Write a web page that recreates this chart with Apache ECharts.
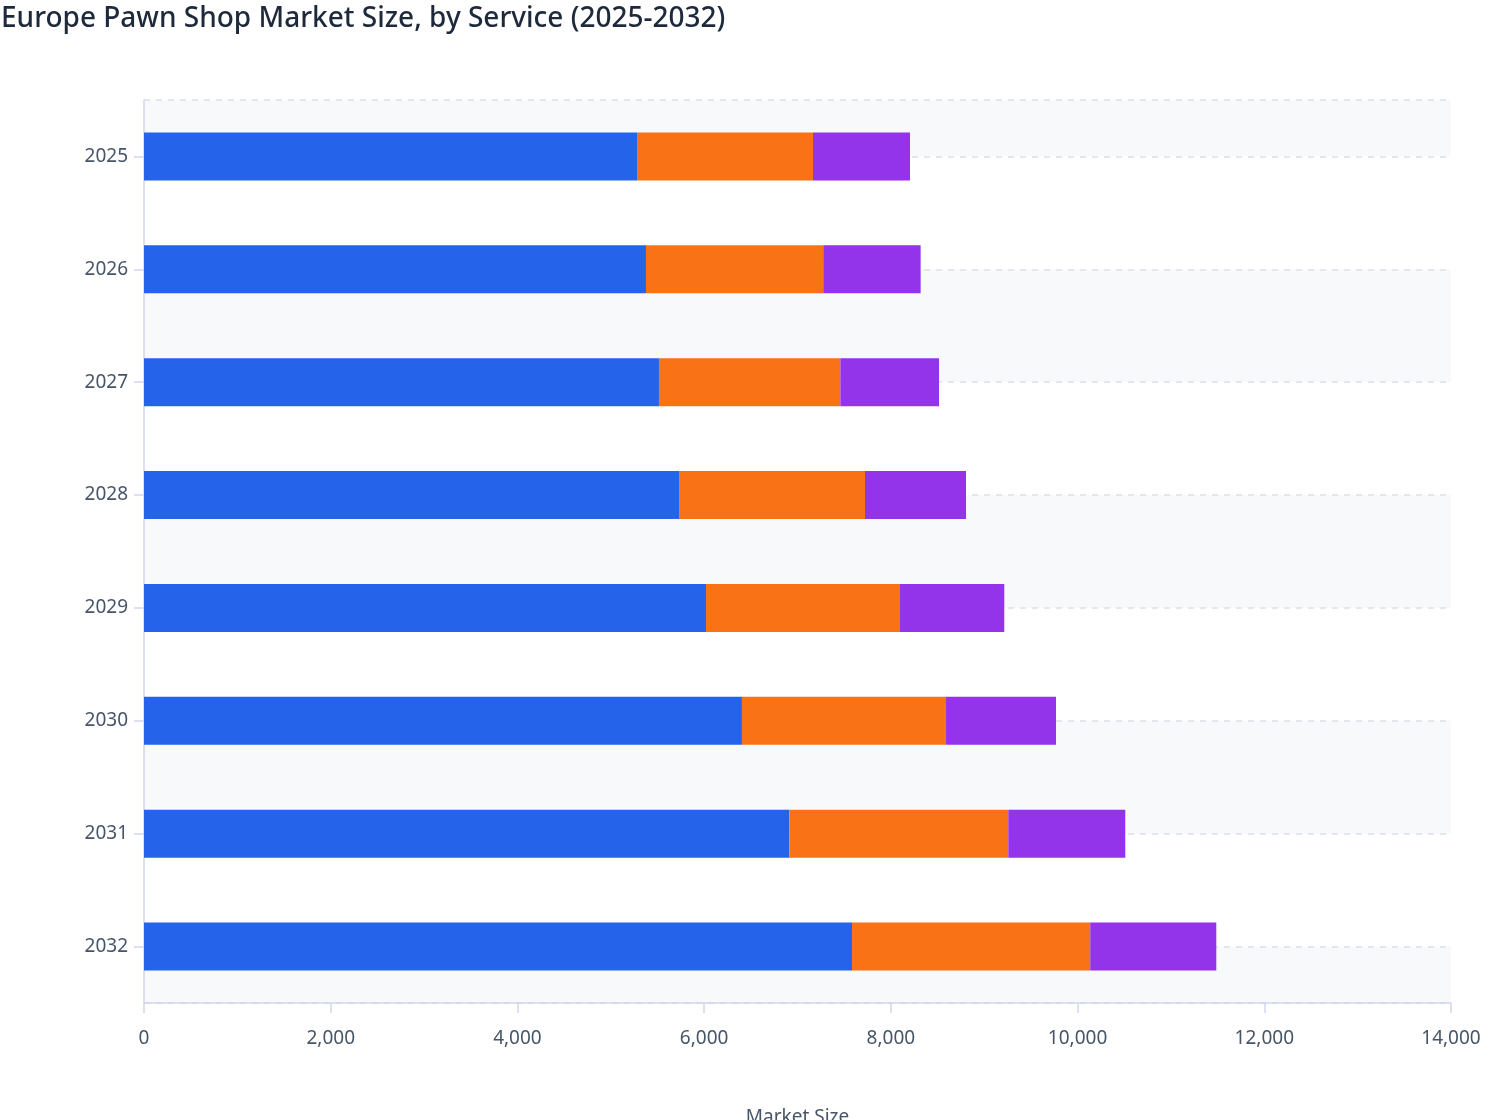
<!DOCTYPE html>
<html>
<head>
<meta charset="utf-8">
<script src="https://cdn.jsdelivr.net/npm/echarts@6/dist/echarts.min.js"></script>
<style>
html,body{margin:0;padding:0;background:#ffffff;}
#main{width:1508px;height:1120px;}
</style>
</head>
<body>
<div id="main"></div>
<script>
const years = ['2025', '2026', '2027', '2028', '2029', '2030', '2031', '2032'];
const pawnLoans = [5281, 5377, 5516, 5731, 6020, 6405, 6912, 7584];
const retailSales = [1885, 1899, 1943, 1992, 2078, 2186, 2346, 2552];
const otherServices = [1039, 1043, 1057, 1082, 1117, 1178, 1253, 1350];
const seriesNames = ['Pawn Loans', 'Retail Sales', 'Other Services'];
const seriesColors = ['#2563eb', '#f97316', '#9333ea'];

const FONT = 'Noto Sans';
const chart = echarts.init(document.getElementById('main'), null, {renderer: 'canvas'});

const seriesData = [pawnLoans, retailSales, otherServices];

chart.setOption({
  backgroundColor: '#ffffff',
  animation: false,
  title: {
    text: 'Europe Pawn Shop Market Size, by Service (2025-2032)',
    left: -4,
    top: 0,
    textStyle: {fontFamily: FONT, fontSize: 28, fontWeight: 500, color: '#1e293b'}
  },
  grid: {left: 144, right: 57, top: 100, bottom: 117, containLabel: false, outerBoundsMode: 'none'},
  xAxis: {
    type: 'value',
    min: 0,
    max: 14000,
    interval: 2000,
    name: 'Market Size',
    nameLocation: 'middle',
    nameGap: 105,
    nameTextStyle: {fontFamily: FONT, fontSize: 19, color: '#475569'},
    axisLine: {show: true, onZero: false, lineStyle: {color: '#cfd6ee', width: 1.5}},
    axisTick: {show: true, length: 10, lineStyle: {color: '#cfd6ee', width: 1.5}},
    axisLabel: {
      fontFamily: FONT, fontSize: 19, color: '#475569', margin: 26,
      formatter: v => v.toLocaleString('en-US')
    },
    splitLine: {show: false}
  },
  yAxis: [
    {
      type: 'category',
      data: years,
      inverse: true,
      axisLine: {show: true, onZero: false, lineStyle: {color: '#cfd6ee', width: 1.5}},
      axisTick: {show: true, alignWithLabel: true, length: 10, lineStyle: {color: '#cfd6ee', width: 1.5}},
      axisLabel: {fontFamily: FONT, fontSize: 19, color: '#475569', margin: 16},
      splitLine: {show: false},
      splitArea: {show: false}
    },
    {
      type: 'value',
      inverse: true,
      min: -0.5,
      max: 7.5,
      splitNumber: 8,
      minInterval: 1,
      maxInterval: 1,
      position: 'left',
      axisLine: {show: false, onZero: false},
      axisTick: {show: false},
      axisLabel: {show: false},
      splitLine: {show: true, lineStyle: {color: '#e3e6ee', width: 2, type: [6, 6]}},
      splitArea: {show: true, areaStyle: {color: ['#f8f9fb', 'rgba(255,255,255,0)']}}
    }
  ],
  series: seriesNames.map((name, i) => ({
    name: name,
    type: 'bar',
    stack: 'total',
    yAxisIndex: 0,
    barWidth: 48,
    itemStyle: {color: seriesColors[i]},
    data: seriesData[i]
  }))
});
</script>
</body>
</html>
